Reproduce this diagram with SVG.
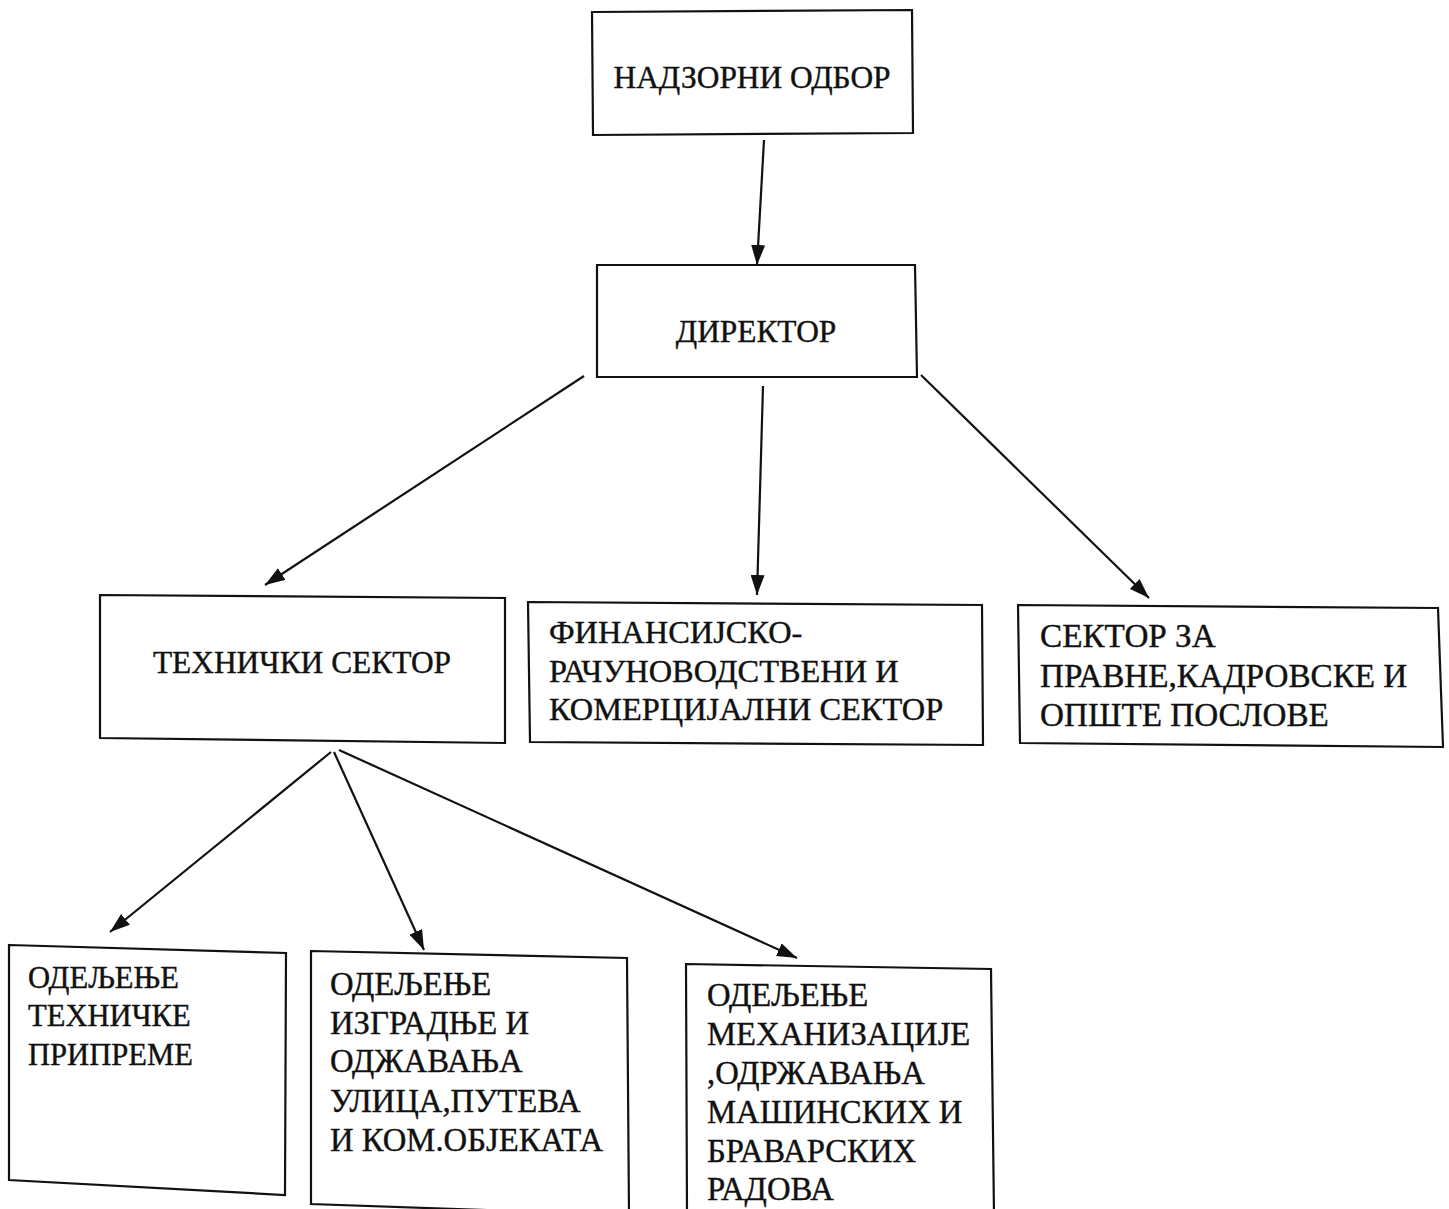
<svg xmlns="http://www.w3.org/2000/svg" width="1449" height="1209" viewBox="0 0 1449 1209">
<style>
.box{fill:#fff;stroke:#111;stroke-width:2.2;stroke-linejoin:miter}
.t{font-family:"Liberation Serif","Times New Roman",serif;font-size:32.7px;fill:#111;stroke:#111;stroke-width:0.4}
.c{text-anchor:middle;font-size:31.4px}
.s1{font-size:30.6px}
.s2{font-size:33.2px}
.s3{font-size:32.4px}
.con line{stroke:#111;stroke-width:2.2}
</style>
<defs>
<marker id="ah" viewBox="0 0 20 14" refX="20" refY="7" markerWidth="20" markerHeight="14" markerUnits="userSpaceOnUse" orient="auto">
<path d="M0,0 L20,7 L0,14 Z" fill="#111"/>
</marker>
</defs>
<rect width="1449" height="1209" fill="#fff"/>
<g id="n-nadzorni">
<polygon class="box" points="592,12 912,10 913,133 593,135"/>
<text class="t c" x="752" y="88">НАДЗОРНИ ОДБОР</text>
</g>
<g id="n-direktor">
<polygon class="box" points="597,265 915,265 917,377 597,377"/>
<text class="t c" x="756" y="342">ДИРЕКТОР</text>
</g>
<g id="n-tehnicki">
<polygon class="box" points="100,595 505,598 505,743 100,738"/>
<text class="t c" x="302" y="673">ТЕХНИЧКИ СЕКТОР</text>
</g>
<g id="n-finansijsko">
<polygon class="box" points="528,602 982,605 983,745 530,742"/>
<text class="t s3" x="549" y="643">ФИНАНСИЈСКО-</text>
<text class="t s3" x="549" y="682">РАЧУНОВОДСТВЕНИ И</text>
<text class="t s3" x="549" y="720">КОМЕРЦИЈАЛНИ СЕКТОР</text>
</g>
<g id="n-pravne">
<polygon class="box" points="1018,605 1438,608 1443,747 1020,743"/>
<text class="t s2" x="1040" y="647">СЕКТОР ЗА</text>
<text class="t s2" x="1040" y="687">ПРАВНЕ,КАДРОВСКЕ И</text>
<text class="t s2" x="1040" y="726">ОПШТЕ ПОСЛОВЕ</text>
</g>
<g id="n-tehnicke-pripreme">
<polygon class="box" points="9,945 286,953 285,1195 9,1180"/>
<text class="t s1" x="28" y="988">ОДЕЉЕЊЕ</text>
<text class="t s1" x="28" y="1026">ТЕХНИЧКЕ</text>
<text class="t s1" x="28" y="1065">ПРИПРЕМЕ</text>
</g>
<g id="n-izgradnje">
<polygon class="box" points="311,951 627,958 629,1215 311,1204"/>
<text class="t" x="330" y="995">ОДЕЉЕЊЕ</text>
<text class="t" x="330" y="1034">ИЗГРАДЊЕ И</text>
<text class="t" x="330" y="1072">ОДЖАВАЊА</text>
<text class="t" x="330" y="1112">УЛИЦА,ПУТЕВА</text>
<text class="t" x="330" y="1151">И КОМ.ОБЈЕКАТА</text>
</g>
<g id="n-mehanizacije">
<polygon class="box" points="686,964 991,969 994,1215 687,1215"/>
<text class="t" x="707" y="1006">ОДЕЉЕЊЕ</text>
<text class="t" x="707" y="1045">МЕХАНИЗАЦИЈЕ</text>
<text class="t" x="707" y="1084">,ОДРЖАВАЊА</text>
<text class="t" x="707" y="1123">МАШИНСКИХ И</text>
<text class="t" x="707" y="1162">БРАВАРСКИХ</text>
<text class="t" x="707" y="1200">РАДОВА</text>
</g>
<g id="connectors" class="con">
<line x1="764" y1="140" x2="757" y2="265" marker-end="url(#ah)"/>
<line x1="584" y1="376" x2="265" y2="585" marker-end="url(#ah)"/>
<line x1="763" y1="386" x2="757" y2="595" marker-end="url(#ah)"/>
<line x1="921" y1="375" x2="1149" y2="598" marker-end="url(#ah)"/>
<line x1="331" y1="752" x2="110" y2="932" marker-end="url(#ah)"/>
<line x1="334" y1="752" x2="424" y2="950" marker-end="url(#ah)"/>
<line x1="339" y1="750" x2="797" y2="958" marker-end="url(#ah)"/>
</g>
</svg>
